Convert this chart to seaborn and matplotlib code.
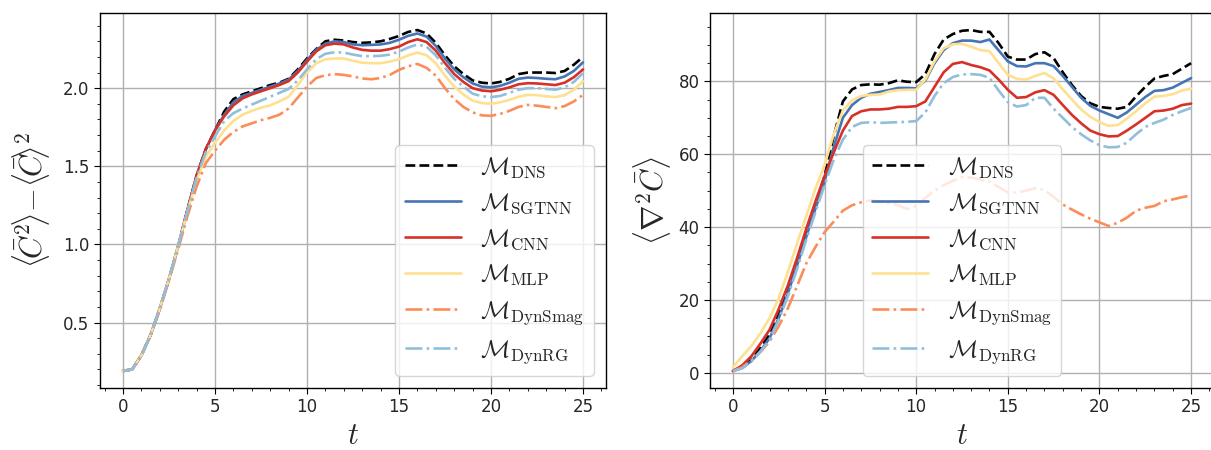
import numpy as np
import pandas as pd
import matplotlib
matplotlib.use("Agg")
import matplotlib.pyplot as plt
import seaborn as sns

# ---------------- data ----------------
t = [0.0, 0.5, 1.0, 1.5, 2.0, 2.5, 3.0, 3.5, 4.0, 4.5,
     5.0, 5.5, 6.0, 6.5, 7.0, 7.5, 8.0, 8.5, 9.0, 9.5,
     10.0, 10.5, 11.0, 11.5, 12.0, 12.5, 13.0, 13.5, 14.0, 14.5,
     15.0, 15.5, 16.0, 16.5, 17.0, 17.5, 18.0, 18.5, 19.0, 19.5,
     20.0, 20.5, 21.0, 21.5, 22.0, 22.5, 23.0, 23.5, 24.0, 24.5, 25.0]

rise_var = [0.19, 0.20, 0.29, 0.42, 0.59, 0.78, 0.99, 1.22, 1.44]

var_dns = rise_var + [1.61,
    1.73, 1.85, 1.93, 1.96, 1.98, 2.00, 2.02, 2.035, 2.06, 2.12,
    2.19, 2.25, 2.30, 2.31, 2.305, 2.295, 2.29, 2.293, 2.30, 2.315,
    2.334, 2.36, 2.372, 2.35, 2.29, 2.21, 2.14, 2.09, 2.05, 2.035,
    2.03, 2.04, 2.06, 2.09, 2.10, 2.10, 2.10, 2.097, 2.11, 2.15, 2.20]
var_sgtnn = rise_var + [1.61,
    1.73, 1.83, 1.91, 1.95, 1.97, 1.99, 2.01, 2.03, 2.055, 2.11,
    2.18, 2.245, 2.285, 2.30, 2.295, 2.28, 2.275, 2.277, 2.28, 2.29,
    2.31, 2.335, 2.35, 2.33, 2.27, 2.19, 2.12, 2.07, 2.03, 2.01,
    2.005, 2.015, 2.035, 2.06, 2.068, 2.065, 2.06, 2.057, 2.075, 2.11, 2.165]
var_cnn = rise_var + [1.61,
    1.73, 1.82, 1.89, 1.935, 1.96, 1.98, 2.00, 2.02, 2.045, 2.10,
    2.17, 2.235, 2.275, 2.285, 2.28, 2.26, 2.245, 2.24, 2.24, 2.25,
    2.266, 2.295, 2.313, 2.295, 2.24, 2.16, 2.09, 2.04, 2.00, 1.985,
    1.98, 1.99, 2.005, 2.025, 2.032, 2.03, 2.025, 2.02, 2.035, 2.07, 2.12]
var_mlp = [0.19, 0.20, 0.29, 0.42, 0.59, 0.78, 0.99, 1.21, 1.41, 1.56,
    1.65, 1.73, 1.79, 1.83, 1.855, 1.875, 1.89, 1.915, 1.945, 2.02,
    2.10, 2.16, 2.185, 2.19, 2.19, 2.175, 2.163, 2.16, 2.16, 2.17,
    2.185, 2.21, 2.228, 2.21, 2.16, 2.08, 2.01, 1.96, 1.92, 1.905,
    1.90, 1.91, 1.925, 1.945, 1.957, 1.955, 1.948, 1.943, 1.955, 1.99, 2.043]
var_dynsmag = [0.19, 0.20, 0.29, 0.42, 0.58, 0.77, 0.97, 1.18, 1.37, 1.52,
    1.60, 1.67, 1.72, 1.755, 1.775, 1.795, 1.81, 1.83, 1.87, 1.94,
    2.01, 2.065, 2.083, 2.09, 2.085, 2.075, 2.062, 2.057, 2.065, 2.085,
    2.117, 2.14, 2.155, 2.13, 2.08, 2.00, 1.93, 1.88, 1.845, 1.826,
    1.823, 1.835, 1.855, 1.88, 1.893, 1.888, 1.88, 1.872, 1.885, 1.915, 1.957]
var_dynrg = [0.19, 0.20, 0.29, 0.42, 0.59, 0.78, 0.99, 1.21, 1.43, 1.59,
    1.69, 1.79, 1.84, 1.87, 1.895, 1.92, 1.945, 1.97, 1.995, 2.05,
    2.12, 2.185, 2.22, 2.23, 2.228, 2.215, 2.205, 2.205, 2.207, 2.215,
    2.234, 2.26, 2.28, 2.265, 2.21, 2.13, 2.06, 2.01, 1.965, 1.948,
    1.943, 1.95, 1.97, 1.99, 2.00, 2.00, 1.995, 1.99, 2.005, 2.04, 2.096]

lap_dns = [0.5, 1.5, 3.6, 6.8, 10.5, 16.0, 22.5, 30.0, 38.0, 46.0,
    54.0, 65.0, 74.5, 77.8, 79.0, 79.2, 79.1, 79.5, 80.3, 79.9,
    79.8, 82.0, 87.5, 91.5, 93.0, 93.9, 94.1, 93.6, 93.6, 90.5,
    86.8, 86.0, 86.0, 87.5, 88.0, 86.4, 82.5, 79.0, 76.0, 74.0,
    73.0, 72.7, 72.5, 73.0, 75.9, 78.5, 80.8, 81.5, 82.0, 83.5, 85.0]
lap_sgtnn = [0.5, 1.3, 3.2, 6.0, 9.5, 15.0, 21.8, 29.5, 37.3, 45.0,
    52.5, 62.0, 70.0, 73.5, 75.5, 76.6, 77.1, 77.6, 78.2, 78.2,
    78.1, 80.2, 85.0, 88.6, 90.5, 91.2, 91.2, 90.8, 91.5, 88.5,
    85.5, 84.2, 84.1, 85.0, 85.0, 84.2, 81.5, 78.5, 75.5, 73.3,
    72.0, 71.0, 70.0, 71.5, 73.6, 75.7, 77.4, 77.6, 78.3, 79.6, 80.9]
lap_cnn = [0.5, 2.0, 4.5, 8.0, 11.8, 17.5, 24.0, 31.5, 39.5, 47.0,
    54.0, 60.5, 66.5, 70.5, 71.8, 72.3, 72.3, 72.5, 73.0, 73.0,
    73.2, 74.5, 78.5, 82.5, 84.8, 85.3, 84.5, 83.9, 83.0, 80.5,
    77.7, 75.5, 75.7, 77.0, 77.6, 76.3, 73.5, 70.8, 68.5, 66.5,
    65.5, 64.9, 65.0, 66.5, 68.2, 70.0, 71.8, 72.0, 72.5, 73.5, 73.9]
lap_mlp = [1.5, 4.5, 7.3, 10.8, 15.0, 20.5, 27.7, 35.5, 43.0, 50.5,
    57.0, 65.5, 72.0, 74.8, 76.0, 76.3, 76.4, 77.2, 77.6, 77.7,
    77.7, 80.5, 85.5, 89.1, 90.2, 90.3, 89.5, 88.6, 88.3, 85.0,
    81.8, 80.7, 80.5, 81.5, 82.3, 80.8, 77.8, 75.0, 72.3, 70.3,
    68.8, 67.8, 68.0, 69.8, 71.8, 74.0, 75.8, 76.0, 76.5, 77.5, 78.0]
lap_dynsmag = [0.5, 1.5, 3.4, 5.7, 8.6, 12.8, 17.7, 23.8, 30.0, 34.5,
    38.6, 41.5, 44.5, 46.0, 46.8, 47.3, 47.0, 46.6, 46.0, 45.0,
    45.8, 48.0, 50.0, 51.5, 52.7, 53.7, 53.6, 53.0, 52.5, 51.0,
    49.5, 49.5, 50.0, 50.7, 50.2, 48.3, 46.2, 44.8, 43.5, 42.3,
    41.3, 40.3, 41.2, 42.6, 44.5, 45.3, 45.8, 47.1, 47.6, 48.2, 48.7]
lap_dynrg = [0.5, 1.2, 3.0, 5.8, 9.0, 14.5, 21.0, 28.5, 36.5, 44.0,
    51.5, 58.5, 64.0, 67.5, 68.6, 68.8, 68.6, 68.7, 68.8, 68.9,
    69.1, 71.5, 76.0, 79.5, 81.2, 81.9, 82.0, 81.8, 81.0, 77.5,
    74.3, 73.1, 73.5, 75.5, 75.5, 72.5, 70.0, 67.5, 65.5, 63.8,
    62.5, 61.9, 62.0, 63.2, 65.5, 67.5, 68.6, 69.5, 70.8, 71.8, 72.7]

model_labels = [r"$\mathcal{M}_{\rm DNS}$", r"$\mathcal{M}_{\rm SGTNN}$",
                r"$\mathcal{M}_{\rm CNN}$", r"$\mathcal{M}_{\rm MLP}$",
                r"$\mathcal{M}_{\rm DynSmag}$", r"$\mathcal{M}_{\rm DynRG}$"]

var_series = [var_dns, var_sgtnn, var_cnn, var_mlp, var_dynsmag, var_dynrg]
lap_series = [lap_dns, lap_sgtnn, lap_cnn, lap_mlp, lap_dynsmag, lap_dynrg]

colors = ["black", "#4575b4", "#d73027", "#fee090", "#fc8d59", "#91bfdb"]
styles = ["--", "-", "-", "-", "-.", "-."]

# ---------------- style ----------------
sns.set_style("ticks", {"axes.grid": True, "grid.color": "#b0b0b0",
                        "axes.edgecolor": "black"})
plt.rcParams["font.family"] = ["DejaVu Sans"]
plt.rcParams["mathtext.fontset"] = "cm"
plt.rcParams["xtick.direction"] = "out"
plt.rcParams["ytick.direction"] = "out"

fig = plt.figure(figsize=(12.11, 4.5), dpi=100)
ax1 = fig.add_axes([100 / 1211, 1 - 388 / 450, 506 / 1211, 375 / 450])
ax2 = fig.add_axes([710 / 1211, 1 - 388 / 450, 504 / 1211, 375 / 450])


def draw(ax, series):
    for vals, lab, c, ls in zip(series, model_labels, colors, styles):
        df = pd.DataFrame({"t": t, "v": vals})
        sns.lineplot(data=df, x="t", y="v", ax=ax, color=c, linestyle=ls,
                     linewidth=1.9, label=lab)
    ax.grid(True, which="major", color="#b0b0b0", linewidth=1.0)
    ax.minorticks_on()
    ax.grid(False, which="minor")
    ax.tick_params(axis="both", which="major", labelsize=12, length=4,
                   width=0.8, color="black")
    ax.tick_params(axis="both", which="minor", length=2.5, width=0.6,
                   color="black")
    for s in ax.spines.values():
        s.set_color("black")
        s.set_linewidth(1.0)
    ax.set_xlabel(r"$t$", fontsize=22, labelpad=3)


draw(ax1, var_series)
draw(ax2, lap_series)

ax1.set_xlim(-1.25, 26.25)
ax2.set_xlim(-1.25, 26.25)
ax1.set_ylabel(r"$\langle\!\bar{C}^2\!\rangle\!-\!\langle\!\bar{C}\!\rangle^2$",
               fontsize=22, labelpad=8)
ax2.set_ylabel(r"$\langle \nabla^2 \bar{C} \rangle$", fontsize=22)
ax1.set_yticks([0.5, 1.0, 1.5, 2.0])

leg_kw = dict(fontsize=17.5, framealpha=0.8, handlelength=2.3,
              borderpad=0.4, labelspacing=0.45)
ax1.legend(loc="lower right", **leg_kw)
ax2.legend(loc="lower center", **leg_kw)

fig.savefig("out.png", dpi=100)
